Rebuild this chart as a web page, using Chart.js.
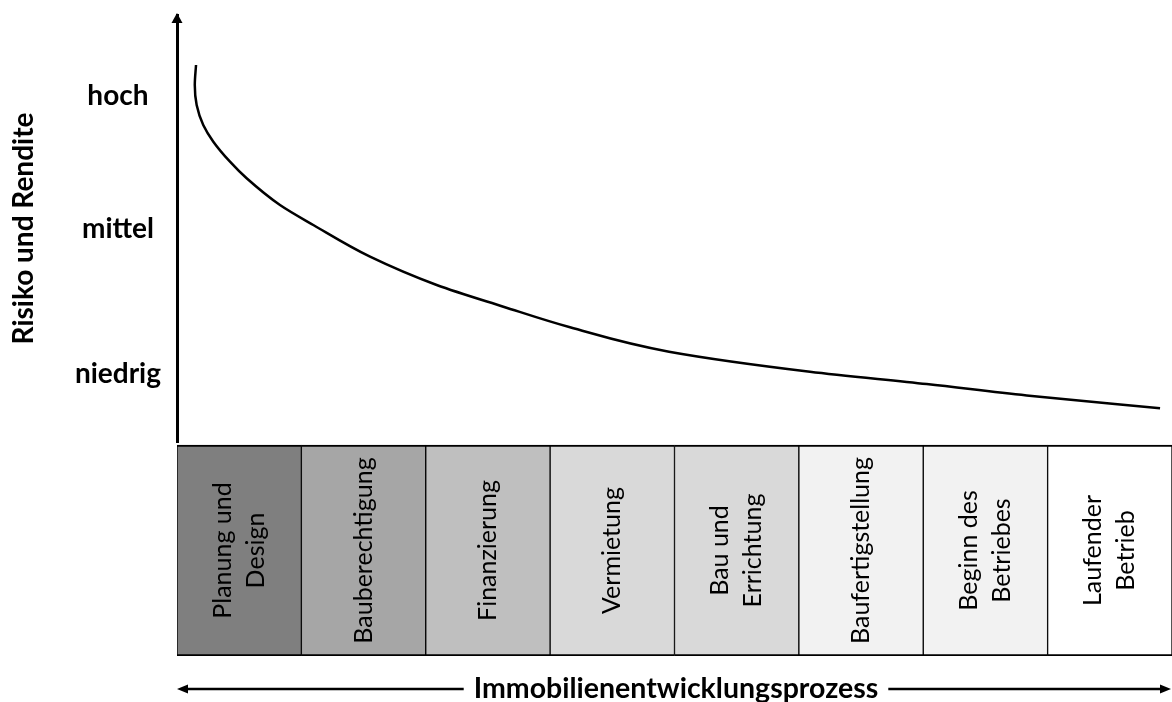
<!DOCTYPE html>
<html>
<head>
<meta charset="utf-8">
<script src="https://cdn.jsdelivr.net/npm/chart.js@4.4.1/dist/chart.umd.min.js"></script>
<style>
html,body{margin:0;padding:0;background:#ffffff;}
#wrap{width:1172px;height:702px;position:relative;}
</style>
</head>
<body>
<div id="wrap"><canvas id="c"></canvas></div>
<script>
// ---- data ----
const phases = [["Planung und","Design"],"Bauberechtigung","Finanzierung","Vermietung",["Bau und","Errichtung"],"Baufertigstellung",["Beginn des","Betriebes"],["Laufender","Betrieb"]];
const phaseColors = ["#7f7f7f","#a6a6a6","#bfbfbf","#d9d9d9","#d9d9d9","#f2f2f2","#f2f2f2","#ffffff"];
const phaseBand = [0.986,0.986,0.986,0.986,0.986,0.986,0.986,0.986];
const riskLevels = ["niedrig","mittel","hoch"];
const riskTickValues = [15.9,49.9,81.0];
const curveX = [0.153,0.143,0.158,0.211,0.292,0.426,0.560,0.828,1.096,1.552,2.088,2.624,3.160,3.956,5.089,6.028,6.832,7.904];
const curveY = [88.29,83.61,78.92,74.24,70.33,65.64,61.76,55.50,50.82,43.40,36.77,31.69,26.86,21.15,16.46,13.58,10.89,7.89];
const yTitle = "Risiko und Rendite";
const processTitle = "Immobilienentwicklungsprozess";

const curvePoints = curveX.map((x,i)=>({x:x,y:curveY[i]}));

const FONT = "Lato, 'Open Sans', sans-serif";

const decorPlugin = {
  id: 'decor',
  afterDatasetsDraw(chart){
    const ctx = chart.ctx;
    const meta = chart.getDatasetMeta(1);
    ctx.save();
    ctx.fillStyle = '#000';
    ctx.font = "25px " + FONT;
    ctx.textAlign = 'center';
    ctx.textBaseline = 'middle';
    meta.data.forEach((bar,i)=>{
      const lines = Array.isArray(phases[i]) ? phases[i] : [phases[i]];
      const cx = bar.x;
      const cy = (bar.y + bar.base)/2;
      ctx.save();
      ctx.translate(cx, cy);
      ctx.rotate(-Math.PI/2);
      const lh = 33;
      lines.forEach((t,k)=>{
        ctx.fillText(t, 0, (k-(lines.length-1)/2)*lh);
      });
      ctx.restore();
    });
    ctx.restore();
  },
  afterDraw(chart){
    const ctx = chart.ctx;
    const ys = chart.scales.y;
    const area = chart.chartArea;
    ctx.save();
    ctx.fillStyle = '#000';
    ctx.strokeStyle = '#000';
    const ax = ys.right;
    ctx.beginPath();
    ctx.moveTo(ax, ys.top - 2);
    ctx.lineTo(ax - 5.5, ys.top + 8);
    ctx.lineTo(ax + 5.5, ys.top + 8);
    ctx.closePath();
    ctx.fill();
    ctx.font = "bold 28.5px " + FONT;
    ctx.textAlign = 'center';
    ctx.textBaseline = 'middle';
    const cx = 676, cy = 689;
    ctx.fillText(processTitle, cx, cy);
    const w = ctx.measureText(processTitle).width;
    const l = area.left, r = chart.width - 1;
    ctx.lineWidth = 2.5;
    ctx.beginPath();
    ctx.moveTo(l + 8, cy); ctx.lineTo(cx - w/2 - 10, cy);
    ctx.moveTo(cx + w/2 + 10, cy); ctx.lineTo(r - 8, cy);
    ctx.stroke();
    ctx.beginPath();
    ctx.moveTo(l, cy); ctx.lineTo(l + 11, cy - 4.5); ctx.lineTo(l + 11, cy + 4.5); ctx.closePath();
    ctx.moveTo(r, cy); ctx.lineTo(r - 11, cy - 4.5); ctx.lineTo(r - 11, cy + 4.5); ctx.closePath();
    ctx.fill();
    ctx.restore();
  }
};

new Chart(document.getElementById('c'), {
  type: 'bar',
  data: {
    labels: phases,
    datasets: [
      {
        type: 'line',
        data: curvePoints,
        xAxisID: 'x2',
        yAxisID: 'y',
        indexAxis: 'y',
        borderColor: '#000',
        borderWidth: 2.5,
        pointRadius: 0,
        cubicInterpolationMode: 'monotone',
        fill: false
      },
      {
        type: 'bar',
        data: phaseBand,
        xAxisID: 'x',
        yAxisID: 'yb',
        backgroundColor: phaseColors,
        borderColor: '#000',
        borderWidth: {top:2, bottom:2, left:1, right:1},
        borderSkipped: false,
        grouped: false,
        barPercentage: 1,
        categoryPercentage: 1
      }
    ]
  },
  options: {
    responsive: true,
    maintainAspectRatio: false,
    animation: false,
    layout: { padding: { top: 15, right: 0, bottom: 46, left: 0 } },
    plugins: { legend: { display: false }, tooltip: { enabled: false } },
    scales: {
      yb: {
        type: 'linear',
        position: 'left',
        stack: 'v',
        stackWeight: 214,
        min: 0, max: 1,
        afterFit(scale){ scale.width = 177; scale.paddingTop = 0; scale.paddingBottom = 0; },
        ticks: { display: false },
        grid: { display: false, drawTicks: false },
        border: { display: false }
      },
      y: {
        type: 'linear',
        position: 'left',
        stack: 'v',
        stackWeight: 427,
        min: 0, max: 100,
        afterBuildTicks(scale){ scale.ticks = riskTickValues.map(v=>({value:v})); },
        afterFit(scale){ scale.width = 177; scale.paddingTop = 0; scale.paddingBottom = 0; },
        ticks: {
          autoSkip: false,
          crossAlign: 'center',
          padding: 16,
          color: '#000',
          font: { family: FONT, size: 28, weight: 'bold' },
          callback: (v, i) => riskLevels[i]
        },
        grid: { display: false, drawTicks: false },
        border: { display: true, color: '#000', width: 3 },
        title: {
          display: true,
          text: yTitle,
          color: '#000',
          font: { family: FONT, size: 28, weight: 'bold' },
          padding: { top: 7, bottom: 0 }
        }
      },
      x: {
        type: 'category',
        display: false,
        offset: true
      },
      x2: {
        type: 'linear',
        display: false,
        offset: false,
        min: 0, max: 8
      }
    }
  },
  plugins: [decorPlugin]
});
</script>
</body>
</html>
